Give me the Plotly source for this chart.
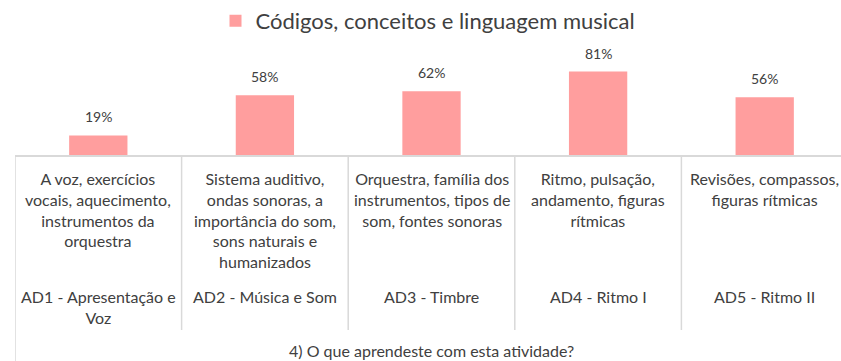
import plotly.graph_objects as go

# Activity labels (outer level) and what was learned in each (inner level)
activities = [
    "AD1 - Apresentação e<br>Voz",
    "AD2 - Música e Som",
    "AD3 - Timbre",
    "AD4 - Ritmo I",
    "AD5 - Ritmo II",
]
topics = [
    "A voz, exercícios<br>vocais, aquecimento,<br>instrumentos da<br>orquestra",
    "Sistema auditivo,<br>ondas sonoras, a<br>importância do som,<br>sons naturais e<br>humanizados",
    "Orquestra, família dos<br>instrumentos, tipos de<br>som, fontes sonoras",
    "Ritmo, pulsação,<br>andamento, figuras<br>rítmicas",
    "Revisões, compassos,<br>figuras rítmicas",
]
percentages = [19, 58, 62, 81, 56]
series_name = "Códigos, conceitos e linguagem musical"
axis_title = "4) O que aprendeste com esta atividade?"

FONT = "Lato"
TEXT = "#404040"
GRID = "#D9D9D9"
BAR = "#FF9E9E"

W, H = 841, 361
ML, MR, MT, MB = 15, 0, 52, 206
plot_h = H - MT - MB
cat_px = 166.6
plot_w = W - ML - MR

xs = list(range(len(percentages)))

fig = go.Figure()
fig.add_trace(go.Bar(
    x=xs, y=percentages, name=series_name,
    marker=dict(color=BAR, line=dict(width=0)),
    width=0.35, showlegend=True,
))


def py(px_below_axis):
    """Paper y for a pixel offset below the category axis."""
    return -px_below_axis / plot_h


annotations = []
for x, v in zip(xs, percentages):
    annotations.append(dict(
        x=x, y=v, xref="x", yref="y", text=f"{v}%", showarrow=False,
        yanchor="bottom", yshift=8, font=dict(family=FONT, size=14, color=TEXT),
    ))
for x, t in zip(xs, topics):
    annotations.append(dict(
        x=x, y=py(12), xref="x", yref="paper", text=t, showarrow=False,
        yanchor="top", align="center", font=dict(family=FONT, size=16, color=TEXT),
    ))
for x, a in zip(xs, activities):
    annotations.append(dict(
        x=x, y=py(130), xref="x", yref="paper", text=a, showarrow=False,
        yanchor="top", align="center", font=dict(family=FONT, size=16, color=TEXT),
    ))
annotations.append(dict(
    x=(len(xs) - 1) / 2, y=py(195), xref="x", yref="paper", text=axis_title,
    showarrow=False, yanchor="middle", font=dict(family=FONT, size=16, color=TEXT),
))

shapes = []
# category dividers running down through the label area
for x in xs[:-1]:
    shapes.append(dict(type="line", xref="x", yref="paper", x0=x + 0.5, x1=x + 0.5,
                       y0=0, y1=py(175), line=dict(color=GRID, width=1.5)))
# left border of the category box
shapes.append(dict(type="line", xref="x", yref="paper", x0=-0.5, x1=-0.5,
                   y0=0, y1=py(MB + 5), line=dict(color=GRID, width=1.5)))

x_max = -0.5 + plot_w / cat_px

fig.update_layout(
    width=W, height=H,
    margin=dict(l=ML, r=MR, t=MT, b=MB),
    paper_bgcolor="white", plot_bgcolor="white",
    bargap=0.65,
    xaxis=dict(range=[-0.5, x_max], showticklabels=False, ticks="", showgrid=False,
               zeroline=False, showline=True, linecolor=GRID, linewidth=2),
    yaxis=dict(range=[0, 100], visible=False),
    legend=dict(orientation="h", x=0.5, xanchor="center", y=1.0, yanchor="top",
                yref="container", font=dict(family=FONT, size=22, color=TEXT),
                itemwidth=30, bgcolor="rgba(0,0,0,0)"),
    annotations=annotations,
    shapes=shapes,
    showlegend=True,
)

fig.write_html("out.html")
